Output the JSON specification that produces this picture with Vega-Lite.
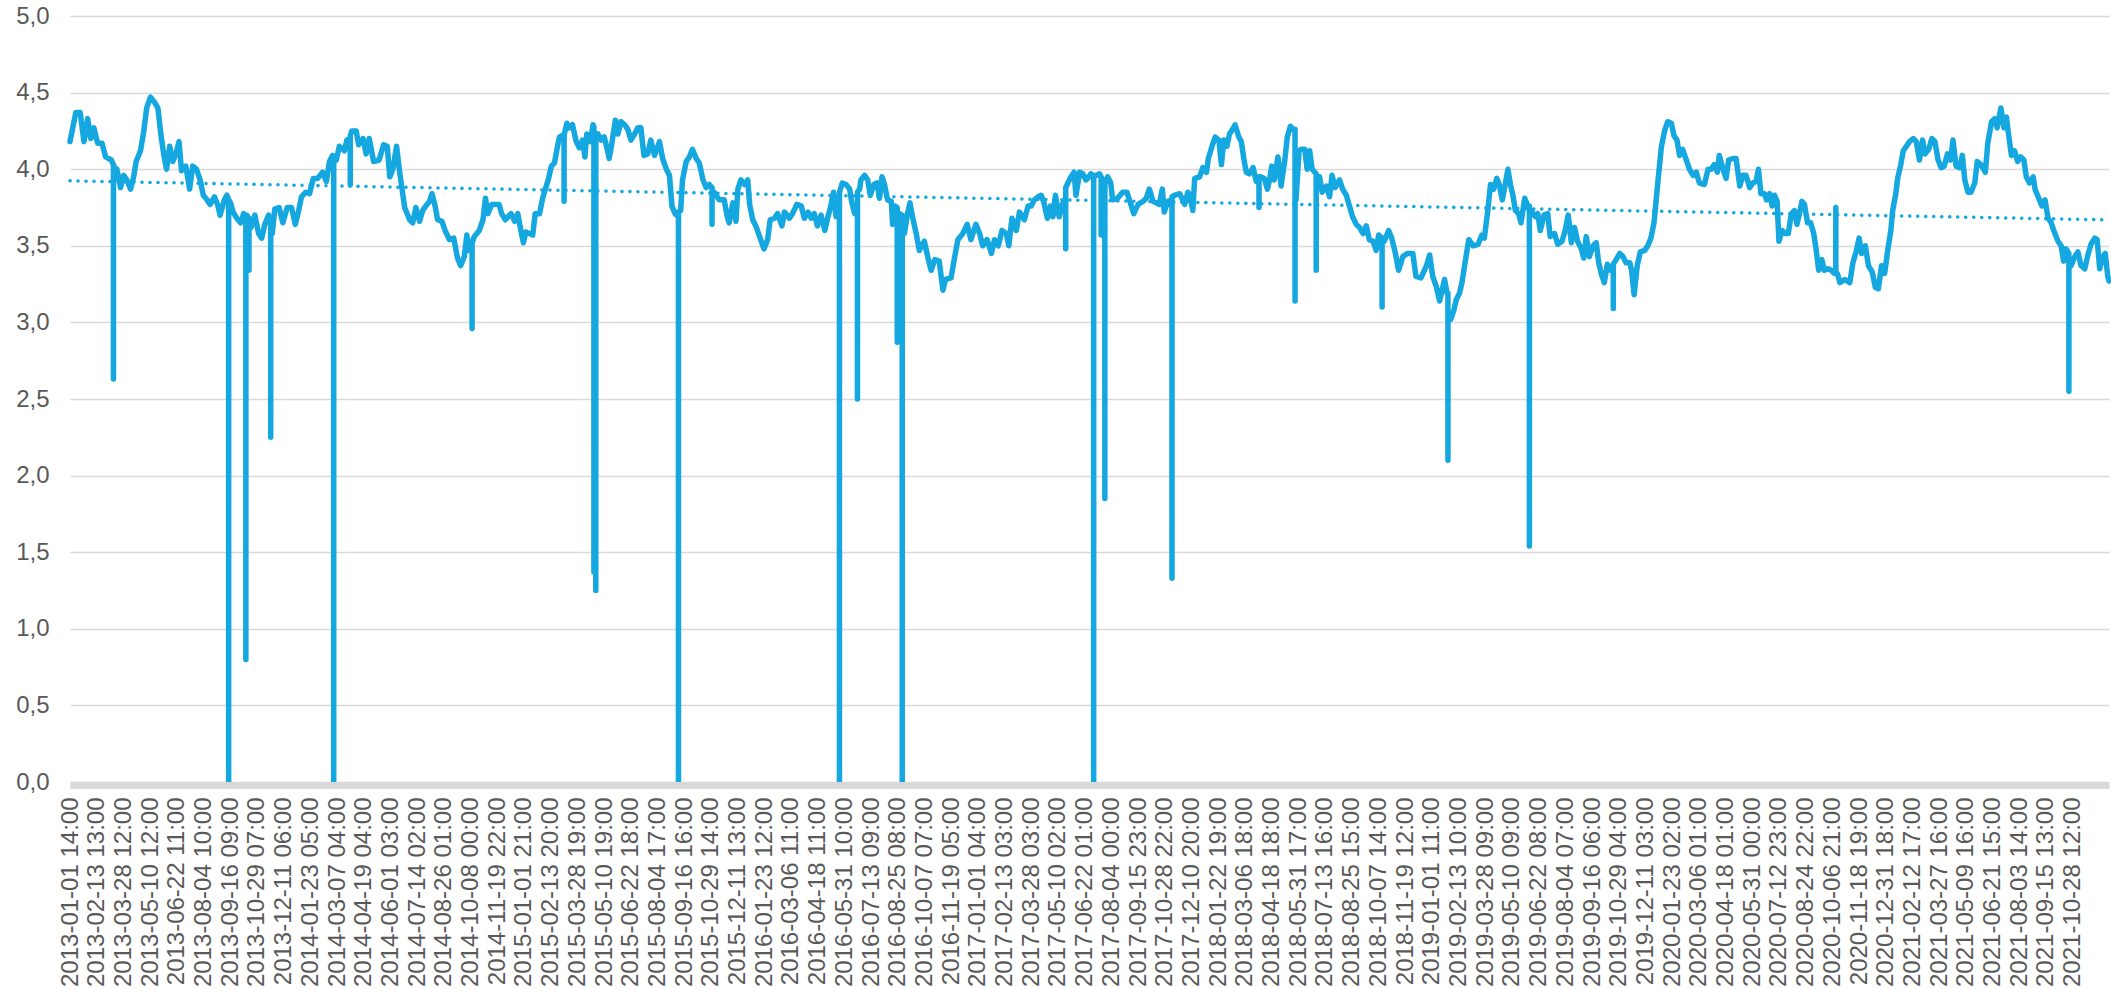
{
"$schema":"https://vega.github.io/schema/vega-lite/v6.json",
"width":2039,"height":766,
"autosize":{"type":"none"},
"padding":{"left":70,"top":16,"right":2,"bottom":207},
"background":"white",
"config":{"view":{"stroke":null},"font":"Liberation Sans"},
"datasets":{
"series":[
{"time":"2013-01-01T14:00Z","value":4.18},{"time":"2013-01-02","value":4.19},{"time":"2013-01-11","value":4.37},{"time":"2013-01-18","value":4.37},{"time":"2013-01-24","value":4.18},{"time":"2013-01-30","value":4.33},{"time":"2013-02-04","value":4.20},{"time":"2013-02-09","value":4.27},{"time":"2013-02-15","value":4.17},{"time":"2013-02-22","value":4.17},{"time":"2013-02-28","value":4.08},{"time":"2013-03-09","value":4.06},
{"time":"2013-03-12T11:00Z","value":4.03},{"time":"2013-03-12T12:00Z","value":2.63},{"time":"2013-03-12T13:00Z","value":4.03},
{"time":"2013-03-14","value":4.01},{"time":"2013-03-18","value":4.00},{"time":"2013-03-24","value":3.88},{"time":"2013-03-29","value":3.96},{"time":"2013-04-03","value":3.93},{"time":"2013-04-09","value":3.87},{"time":"2013-04-14","value":3.95},{"time":"2013-04-18","value":4.05},{"time":"2013-04-25","value":4.12},{"time":"2013-04-30","value":4.24},{"time":"2013-05-05","value":4.40},{"time":"2013-05-11","value":4.47},{"time":"2013-05-17","value":4.44},{"time":"2013-05-23","value":4.40},{"time":"2013-05-28","value":4.22},{"time":"2013-06-02","value":4.08},{"time":"2013-06-06","value":4.00},{"time":"2013-06-11","value":4.15},{"time":"2013-06-16","value":4.05},{"time":"2013-06-21","value":4.10},{"time":"2013-06-26","value":4.18},{"time":"2013-06-30","value":3.99},{"time":"2013-07-07","value":4.02},{"time":"2013-07-13","value":3.87},{"time":"2013-07-18","value":4.02},{"time":"2013-07-24","value":4.00},{"time":"2013-07-30","value":3.93},{"time":"2013-08-04","value":3.83},{"time":"2013-08-10","value":3.80},{"time":"2013-08-15","value":3.77},{"time":"2013-08-22","value":3.82},{"time":"2013-08-27","value":3.77},{"time":"2013-08-31","value":3.70},{"time":"2013-09-07","value":3.80},{"time":"2013-09-11","value":3.83},
{"time":"2013-09-13T19:00Z","value":3.80},{"time":"2013-09-13T20:00Z","value":0},{"time":"2013-09-13T21:00Z","value":3.80},
{"time":"2013-09-17","value":3.78},{"time":"2013-09-21","value":3.72},{"time":"2013-09-27","value":3.68},{"time":"2013-10-03","value":3.65},{"time":"2013-10-08","value":3.71},
{"time":"2013-10-11T11:00Z","value":3.70},{"time":"2013-10-11T12:00Z","value":0.80},{"time":"2013-10-11T13:00Z","value":3.70},
{"time":"2013-10-13","value":3.70},
{"time":"2013-10-16T11:00Z","value":3.68},{"time":"2013-10-16T12:00Z","value":3.34},{"time":"2013-10-16T13:00Z","value":3.66},
{"time":"2013-10-20","value":3.62},{"time":"2013-10-26","value":3.70},{"time":"2013-11-01","value":3.58},{"time":"2013-11-06","value":3.55},{"time":"2013-11-11","value":3.64},{"time":"2013-11-17","value":3.70},
{"time":"2013-11-20T11:00Z","value":3.66},{"time":"2013-11-20T12:00Z","value":2.25},{"time":"2013-11-20T13:00Z","value":3.60},
{"time":"2013-11-23","value":3.58},{"time":"2013-11-27","value":3.74},{"time":"2013-12-04","value":3.75},{"time":"2013-12-10","value":3.65},{"time":"2013-12-17","value":3.75},{"time":"2013-12-24","value":3.75},{"time":"2013-12-30","value":3.64},{"time":"2014-01-04","value":3.72},{"time":"2014-01-09","value":3.82},{"time":"2014-01-16","value":3.85},{"time":"2014-01-22","value":3.84},{"time":"2014-01-28","value":3.94},{"time":"2014-02-04","value":3.94},{"time":"2014-02-12","value":3.98},{"time":"2014-02-18","value":3.92},{"time":"2014-02-23","value":4.05},{"time":"2014-02-28","value":4.09},
{"time":"2014-03-01T19:00Z","value":4.08},{"time":"2014-03-01T20:00Z","value":0},{"time":"2014-03-01T21:00Z","value":4.07},
{"time":"2014-03-06","value":4.06},{"time":"2014-03-11","value":4.15},{"time":"2014-03-19","value":4.12},{"time":"2014-03-23","value":4.19},
{"time":"2014-03-28T11:00Z","value":4.20},{"time":"2014-03-28T12:00Z","value":3.90},{"time":"2014-03-28T13:00Z","value":4.22},
{"time":"2014-03-31","value":4.25},{"time":"2014-04-07","value":4.25},{"time":"2014-04-11","value":4.16},{"time":"2014-04-18","value":4.20},{"time":"2014-04-23","value":4.10},{"time":"2014-04-28","value":4.20},{"time":"2014-05-05","value":4.05},{"time":"2014-05-14","value":4.06},{"time":"2014-05-21","value":4.16},{"time":"2014-05-27","value":4.15},{"time":"2014-05-31","value":3.95},{"time":"2014-06-05","value":4.00},{"time":"2014-06-11","value":4.15},{"time":"2014-06-16","value":3.98},{"time":"2014-06-24","value":3.75},{"time":"2014-07-02","value":3.67},
{"time":"2014-07-07","value":3.65},{"time":"2014-07-12","value":3.75},{"time":"2014-07-18","value":3.66},{"time":"2014-07-23","value":3.73},{"time":"2014-07-28","value":3.76},{"time":"2014-08-03","value":3.79},{"time":"2014-08-07","value":3.84},{"time":"2014-08-12","value":3.76},{"time":"2014-08-16","value":3.67},{"time":"2014-08-23","value":3.66},{"time":"2014-08-28","value":3.60},{"time":"2014-09-04","value":3.54},{"time":"2014-09-11","value":3.55},{"time":"2014-09-17","value":3.42},{"time":"2014-09-22","value":3.37},{"time":"2014-09-28","value":3.43},{"time":"2014-10-02","value":3.57},{"time":"2014-10-06","value":3.47},
{"time":"2014-10-10T11:00Z","value":3.50},{"time":"2014-10-10T12:00Z","value":2.96},{"time":"2014-10-10T13:00Z","value":3.52},
{"time":"2014-10-14","value":3.56},{"time":"2014-10-22","value":3.60},{"time":"2014-10-28","value":3.67},{"time":"2014-11-01","value":3.81},{"time":"2014-11-05","value":3.71},{"time":"2014-11-11","value":3.77},{"time":"2014-11-23","value":3.77},{"time":"2014-11-27","value":3.71},{"time":"2014-12-03","value":3.67},{"time":"2014-12-12","value":3.71},{"time":"2014-12-18","value":3.66},{"time":"2014-12-23","value":3.71},{"time":"2014-12-28","value":3.60},{"time":"2015-01-01","value":3.52},{"time":"2015-01-05","value":3.59},{"time":"2015-01-16","value":3.57},{"time":"2015-01-20","value":3.71},{"time":"2015-01-27","value":3.71},{"time":"2015-02-01","value":3.81},{"time":"2015-02-06","value":3.88},{"time":"2015-02-10","value":3.93},{"time":"2015-02-15","value":4.02},{"time":"2015-02-20","value":4.04},{"time":"2015-02-24","value":4.13},{"time":"2015-02-28","value":4.21},{"time":"2015-03-04","value":4.22},
{"time":"2015-03-07T11:00Z","value":4.22},{"time":"2015-03-07T12:00Z","value":3.79},{"time":"2015-03-07T13:00Z","value":4.23},
{"time":"2015-03-08","value":4.23},{"time":"2015-03-12","value":4.30},{"time":"2015-03-16","value":4.27},{"time":"2015-03-21","value":4.29},{"time":"2015-03-27","value":4.18},{"time":"2015-04-01","value":4.14},{"time":"2015-04-06","value":4.19},{"time":"2015-04-10","value":4.08},{"time":"2015-04-13","value":4.23},{"time":"2015-04-19","value":4.18},{"time":"2015-04-23","value":4.29},
{"time":"2015-04-24T11:00Z","value":4.28},{"time":"2015-04-24T12:00Z","value":1.37},{"time":"2015-04-24T13:00Z","value":4.25},
{"time":"2015-04-27T11:00Z","value":4.22},{"time":"2015-04-27T12:00Z","value":1.25},{"time":"2015-04-27T13:00Z","value":4.22},
{"time":"2015-05-01","value":4.23},{"time":"2015-05-06","value":4.19},{"time":"2015-05-11","value":4.21},{"time":"2015-05-16","value":4.13},{"time":"2015-05-19","value":4.07},{"time":"2015-05-23","value":4.16},{"time":"2015-05-29","value":4.32},{"time":"2015-06-02","value":4.23},{"time":"2015-06-07","value":4.31},{"time":"2015-06-13","value":4.29},{"time":"2015-06-18","value":4.26},{"time":"2015-06-23","value":4.19},{"time":"2015-06-29","value":4.23},{"time":"2015-07-04","value":4.27},{"time":"2015-07-09","value":4.27},{"time":"2015-07-14","value":4.09},{"time":"2015-07-20","value":4.10},{"time":"2015-07-25","value":4.19},{"time":"2015-07-31","value":4.09},{"time":"2015-08-08","value":4.18},{"time":"2015-08-13","value":4.07},{"time":"2015-08-19","value":4.00},{"time":"2015-08-24","value":3.96},{"time":"2015-08-28","value":3.76},{"time":"2015-09-02","value":3.71},
{"time":"2015-09-07T11:00Z","value":3.69},{"time":"2015-09-07T12:00Z","value":0},{"time":"2015-09-07T13:00Z","value":3.72},
{"time":"2015-09-11","value":3.73},{"time":"2015-09-14","value":3.93},{"time":"2015-09-20","value":4.05},{"time":"2015-09-25","value":4.08},{"time":"2015-09-30","value":4.13},{"time":"2015-10-06","value":4.07},{"time":"2015-10-11","value":4.04},{"time":"2015-10-17","value":3.93},{"time":"2015-10-22","value":3.88},{"time":"2015-10-27","value":3.90},
{"time":"2015-10-31T11:00Z","value":3.88},{"time":"2015-10-31T12:00Z","value":3.64},{"time":"2015-10-31T13:00Z","value":3.86},
{"time":"2015-11-04","value":3.85},{"time":"2015-11-12","value":3.80},{"time":"2015-11-20","value":3.80},{"time":"2015-11-25","value":3.69},{"time":"2015-11-28","value":3.65},{"time":"2015-12-04","value":3.78},{"time":"2015-12-09","value":3.66},{"time":"2015-12-12","value":3.87},{"time":"2015-12-17","value":3.93},{"time":"2015-12-23","value":3.90},{"time":"2015-12-28","value":3.93},{"time":"2015-12-31","value":3.77},
{"time":"2016-01-05","value":3.67},{"time":"2016-01-10","value":3.63},{"time":"2016-01-16","value":3.56},{"time":"2016-01-23","value":3.48},{"time":"2016-01-29","value":3.54},{"time":"2016-02-02","value":3.67},{"time":"2016-02-09","value":3.68},{"time":"2016-02-14","value":3.71},{"time":"2016-02-21","value":3.63},{"time":"2016-02-25","value":3.72},{"time":"2016-03-04","value":3.68},{"time":"2016-03-09","value":3.71},{"time":"2016-03-16","value":3.77},{"time":"2016-03-23","value":3.76},{"time":"2016-03-28","value":3.68},{"time":"2016-04-03","value":3.72},{"time":"2016-04-08","value":3.68},{"time":"2016-04-13","value":3.71},{"time":"2016-04-18","value":3.63},{"time":"2016-04-24","value":3.70},{"time":"2016-04-30","value":3.60},{"time":"2016-05-05","value":3.69},{"time":"2016-05-09","value":3.75},{"time":"2016-05-14","value":3.85},{"time":"2016-05-18","value":3.69},
{"time":"2016-05-23T11:00Z","value":3.75},{"time":"2016-05-23T12:00Z","value":0},{"time":"2016-05-23T13:00Z","value":3.85},
{"time":"2016-05-28","value":3.91},{"time":"2016-06-03","value":3.90},{"time":"2016-06-09","value":3.87},{"time":"2016-06-12","value":3.79},{"time":"2016-06-17","value":3.71},
{"time":"2016-06-21T11:00Z","value":3.75},{"time":"2016-06-21T12:00Z","value":2.50},{"time":"2016-06-21T13:00Z","value":3.85},
{"time":"2016-06-25","value":3.87},{"time":"2016-06-27","value":3.93},{"time":"2016-07-03","value":3.96},{"time":"2016-07-08","value":3.93},{"time":"2016-07-12","value":3.83},{"time":"2016-07-18","value":3.90},{"time":"2016-07-23","value":3.91},{"time":"2016-07-27","value":3.81},{"time":"2016-07-31","value":3.95},{"time":"2016-08-04","value":3.90},{"time":"2016-08-09","value":3.80},{"time":"2016-08-15","value":3.79},{"time":"2016-08-17","value":3.64},{"time":"2016-08-21","value":3.76},
{"time":"2016-08-24T11:00Z","value":3.75},{"time":"2016-08-24T12:00Z","value":2.87},{"time":"2016-08-24T13:00Z","value":3.72},
{"time":"2016-08-28","value":3.71},
{"time":"2016-09-01T11:00Z","value":3.70},{"time":"2016-09-01T12:00Z","value":0},{"time":"2016-09-01T13:00Z","value":3.65},
{"time":"2016-09-05","value":3.58},{"time":"2016-09-10","value":3.71},{"time":"2016-09-14","value":3.78},{"time":"2016-09-18","value":3.69},{"time":"2016-09-24","value":3.58},{"time":"2016-09-29","value":3.47},{"time":"2016-10-07","value":3.53},{"time":"2016-10-13","value":3.42},{"time":"2016-10-18","value":3.34},{"time":"2016-10-24","value":3.41},{"time":"2016-10-31","value":3.40},{"time":"2016-11-06","value":3.21},{"time":"2016-11-10","value":3.28},{"time":"2016-11-19","value":3.29},{"time":"2016-11-25","value":3.43},{"time":"2016-11-30","value":3.54},{"time":"2016-12-08","value":3.58},{"time":"2016-12-15","value":3.64},{"time":"2016-12-21","value":3.54},{"time":"2016-12-29","value":3.64},{"time":"2017-01-04","value":3.58},{"time":"2017-01-09","value":3.50},{"time":"2017-01-16","value":3.54},{"time":"2017-01-23","value":3.45},{"time":"2017-01-28","value":3.54},{"time":"2017-02-03","value":3.50},{"time":"2017-02-09","value":3.60},{"time":"2017-02-16","value":3.58},{"time":"2017-02-20","value":3.50},{"time":"2017-02-25","value":3.68},{"time":"2017-03-04","value":3.60},{"time":"2017-03-09","value":3.72},{"time":"2017-03-17","value":3.67},{"time":"2017-03-23","value":3.76},{"time":"2017-03-28","value":3.76},{"time":"2017-04-02","value":3.80},{"time":"2017-04-08","value":3.82},{"time":"2017-04-13","value":3.83},{"time":"2017-04-17","value":3.79},{"time":"2017-04-23","value":3.68},{"time":"2017-04-28","value":3.76},{"time":"2017-05-02","value":3.69},{"time":"2017-05-06","value":3.83},{"time":"2017-05-12","value":3.69},{"time":"2017-05-18","value":3.78},
{"time":"2017-05-22T11:00Z","value":3.78},{"time":"2017-05-22T12:00Z","value":3.48},{"time":"2017-05-22T13:00Z","value":3.88},
{"time":"2017-05-26","value":3.91},{"time":"2017-05-31","value":3.95},{"time":"2017-06-05","value":3.98},{"time":"2017-06-08","value":3.83},{"time":"2017-06-14","value":3.98},{"time":"2017-06-19","value":3.97},{"time":"2017-06-24","value":3.93},{"time":"2017-06-27","value":3.94},{"time":"2017-07-02","value":3.97},
{"time":"2017-07-06T11:00Z","value":3.96},{"time":"2017-07-06T12:00Z","value":0},{"time":"2017-07-06T13:00Z","value":3.95},
{"time":"2017-07-11","value":3.96},{"time":"2017-07-16","value":3.97},
{"time":"2017-07-18T11:00Z","value":3.95},{"time":"2017-07-18T12:00Z","value":3.57},{"time":"2017-07-18T13:00Z","value":3.95},
{"time":"2017-07-21","value":3.93},
{"time":"2017-07-24T11:00Z","value":3.92},{"time":"2017-07-24T12:00Z","value":1.85},{"time":"2017-07-24T13:00Z","value":3.90},
{"time":"2017-07-29","value":3.95},{"time":"2017-08-03","value":3.91},{"time":"2017-08-06","value":3.80},{"time":"2017-08-14","value":3.81},{"time":"2017-08-22","value":3.85},{"time":"2017-08-29","value":3.85},{"time":"2017-09-02","value":3.80},{"time":"2017-09-09","value":3.71},{"time":"2017-09-16","value":3.77},{"time":"2017-09-24","value":3.79},{"time":"2017-09-29","value":3.81},{"time":"2017-10-04","value":3.87},{"time":"2017-10-10","value":3.79},{"time":"2017-10-15","value":3.78},{"time":"2017-10-20","value":3.77},{"time":"2017-10-25","value":3.87},{"time":"2017-10-28","value":3.72},{"time":"2017-11-03","value":3.79},
{"time":"2017-11-09T11:00Z","value":3.80},{"time":"2017-11-09T12:00Z","value":1.33},{"time":"2017-11-09T13:00Z","value":3.82},
{"time":"2017-11-14","value":3.83},{"time":"2017-11-22","value":3.84},{"time":"2017-11-30","value":3.77},{"time":"2017-12-05","value":3.85},{"time":"2017-12-09","value":3.82},{"time":"2017-12-13","value":3.73},{"time":"2017-12-16","value":3.94},{"time":"2017-12-24","value":3.95},{"time":"2017-12-29","value":4.01},{"time":"2018-01-04","value":3.98},{"time":"2018-01-07","value":4.07},{"time":"2018-01-13","value":4.15},{"time":"2018-01-18","value":4.21},{"time":"2018-01-24","value":4.19},{"time":"2018-01-28","value":4.03},{"time":"2018-02-01","value":4.19},{"time":"2018-02-06","value":4.15},{"time":"2018-02-10","value":4.23},{"time":"2018-02-15","value":4.26},{"time":"2018-02-19","value":4.29},{"time":"2018-02-25","value":4.21},{"time":"2018-03-01","value":4.18},{"time":"2018-03-05","value":4.07},{"time":"2018-03-09","value":3.98},{"time":"2018-03-14","value":3.97},{"time":"2018-03-20","value":4.01},{"time":"2018-03-25","value":3.92},
{"time":"2018-03-29T11:00Z","value":3.92},{"time":"2018-03-29T12:00Z","value":3.75},{"time":"2018-03-29T13:00Z","value":3.95},
{"time":"2018-04-02","value":3.95},{"time":"2018-04-07","value":3.94},{"time":"2018-04-12","value":3.87},{"time":"2018-04-15","value":3.92},{"time":"2018-04-19","value":4.02},{"time":"2018-04-23","value":3.93},{"time":"2018-04-29","value":4.08},{"time":"2018-05-04","value":3.89},{"time":"2018-05-10","value":4.06},{"time":"2018-05-14","value":4.21},{"time":"2018-05-19","value":4.28},{"time":"2018-05-23","value":4.26},
{"time":"2018-05-26T11:00Z","value":4.26},{"time":"2018-05-26T12:00Z","value":3.14},{"time":"2018-05-26T13:00Z","value":3.80},
{"time":"2018-05-28","value":3.80},{"time":"2018-06-02","value":4.12},{"time":"2018-06-05","value":4.13},{"time":"2018-06-11","value":4.13},{"time":"2018-06-15","value":4.00},{"time":"2018-06-19","value":4.12},{"time":"2018-06-23","value":4.00},
{"time":"2018-06-29T11:00Z","value":3.97},{"time":"2018-06-29T12:00Z","value":3.34},{"time":"2018-06-29T13:00Z","value":3.95},
{"time":"2018-07-05","value":3.95},{"time":"2018-07-09","value":3.85},{"time":"2018-07-16","value":3.89},{"time":"2018-07-21","value":3.82},{"time":"2018-07-25","value":3.96},{"time":"2018-07-30","value":3.88},{"time":"2018-08-06","value":3.93},{"time":"2018-08-11","value":3.87},{"time":"2018-08-17","value":3.83},{"time":"2018-08-22","value":3.76},{"time":"2018-08-27","value":3.69},{"time":"2018-09-02","value":3.64},{"time":"2018-09-07","value":3.62},{"time":"2018-09-13","value":3.58},{"time":"2018-09-18","value":3.63},{"time":"2018-09-23","value":3.54},{"time":"2018-09-29","value":3.53},{"time":"2018-10-04","value":3.47},{"time":"2018-10-08","value":3.57},
{"time":"2018-10-13T11:00Z","value":3.55},{"time":"2018-10-13T12:00Z","value":3.10},{"time":"2018-10-13T13:00Z","value":3.55},
{"time":"2018-10-17","value":3.53},{"time":"2018-10-24","value":3.60},{"time":"2018-10-29","value":3.55},{"time":"2018-11-04","value":3.45},{"time":"2018-11-09","value":3.34},{"time":"2018-11-16","value":3.43},{"time":"2018-11-23","value":3.45},{"time":"2018-12-02","value":3.45},{"time":"2018-12-07","value":3.30},{"time":"2018-12-15","value":3.29},{"time":"2018-12-24","value":3.37},{"time":"2018-12-29","value":3.44},
{"time":"2019-01-03","value":3.30},{"time":"2019-01-09","value":3.23},{"time":"2019-01-14","value":3.14},{"time":"2019-01-18","value":3.21},{"time":"2019-01-22","value":3.28},{"time":"2019-01-26","value":3.19},
{"time":"2019-01-27T11:00Z","value":3.19},{"time":"2019-01-27T12:00Z","value":2.10},{"time":"2019-01-27T13:00Z","value":3.05},
{"time":"2019-02-01","value":3.02},{"time":"2019-02-06","value":3.08},{"time":"2019-02-10","value":3.15},{"time":"2019-02-15","value":3.19},{"time":"2019-02-19","value":3.26},{"time":"2019-02-24","value":3.39},{"time":"2019-03-02","value":3.54},{"time":"2019-03-09","value":3.50},{"time":"2019-03-17","value":3.51},{"time":"2019-03-23","value":3.57},{"time":"2019-03-27","value":3.55},{"time":"2019-04-01","value":3.71},{"time":"2019-04-06","value":3.90},{"time":"2019-04-11","value":3.87},{"time":"2019-04-16","value":3.94},{"time":"2019-04-20","value":3.90},{"time":"2019-04-25","value":3.80},{"time":"2019-04-30","value":3.91},{"time":"2019-05-04","value":4.00},{"time":"2019-05-08","value":3.90},{"time":"2019-05-12","value":3.83},{"time":"2019-05-16","value":3.73},{"time":"2019-05-21","value":3.71},{"time":"2019-05-25","value":3.65},{"time":"2019-05-31","value":3.81},{"time":"2019-06-05","value":3.76},
{"time":"2019-06-07T11:00Z","value":3.76},{"time":"2019-06-07T12:00Z","value":1.54},{"time":"2019-06-07T13:00Z","value":3.74},
{"time":"2019-06-11","value":3.73},{"time":"2019-06-17","value":3.69},{"time":"2019-06-21","value":3.71},{"time":"2019-06-25","value":3.60},{"time":"2019-07-01","value":3.70},{"time":"2019-07-07","value":3.71},{"time":"2019-07-11","value":3.56},{"time":"2019-07-18","value":3.58},{"time":"2019-07-23","value":3.51},{"time":"2019-07-30","value":3.53},{"time":"2019-08-04","value":3.60},{"time":"2019-08-09","value":3.70},{"time":"2019-08-14","value":3.52},{"time":"2019-08-19","value":3.62},{"time":"2019-08-24","value":3.53},{"time":"2019-08-30","value":3.48},{"time":"2019-09-03","value":3.42},{"time":"2019-09-07","value":3.56},{"time":"2019-09-12","value":3.43},{"time":"2019-09-18","value":3.50},{"time":"2019-09-23","value":3.52},{"time":"2019-09-27","value":3.39},{"time":"2019-10-01","value":3.32},{"time":"2019-10-06","value":3.26},{"time":"2019-10-11","value":3.38},{"time":"2019-10-16","value":3.34},
{"time":"2019-10-20T11:00Z","value":3.34},{"time":"2019-10-20T12:00Z","value":3.09},{"time":"2019-10-20T13:00Z","value":3.38},
{"time":"2019-10-25","value":3.41},{"time":"2019-10-31","value":3.45},{"time":"2019-11-05","value":3.43},{"time":"2019-11-10","value":3.39},{"time":"2019-11-16","value":3.39},{"time":"2019-11-19","value":3.34},{"time":"2019-11-23","value":3.18},{"time":"2019-11-28","value":3.37},{"time":"2019-12-03","value":3.46},{"time":"2019-12-10","value":3.47},{"time":"2019-12-15","value":3.50},{"time":"2019-12-20","value":3.55},{"time":"2019-12-25","value":3.65},{"time":"2019-12-29","value":3.82},{"time":"2020-01-01","value":3.95},{"time":"2020-01-06","value":4.15},{"time":"2020-01-11","value":4.25},{"time":"2020-01-16","value":4.31},{"time":"2020-01-22","value":4.30},{"time":"2020-01-26","value":4.22},{"time":"2020-01-31","value":4.19},{"time":"2020-02-04","value":4.09},{"time":"2020-02-09","value":4.13},{"time":"2020-02-15","value":4.06},{"time":"2020-02-20","value":4.00},{"time":"2020-02-26","value":3.96},{"time":"2020-03-02","value":3.98},{"time":"2020-03-07","value":3.91},{"time":"2020-03-15","value":3.90},{"time":"2020-03-21","value":4.00},{"time":"2020-03-26","value":4.00},{"time":"2020-03-31","value":4.03},{"time":"2020-04-05","value":3.98},{"time":"2020-04-08","value":4.09},{"time":"2020-04-14","value":4.00},{"time":"2020-04-19","value":3.94},{"time":"2020-04-23","value":4.06},{"time":"2020-04-30","value":4.07},{"time":"2020-05-05","value":4.07},{"time":"2020-05-11","value":3.89},{"time":"2020-05-16","value":3.96},{"time":"2020-05-21","value":3.96},{"time":"2020-05-27","value":3.88},{"time":"2020-06-01","value":3.91},{"time":"2020-06-06","value":3.92},{"time":"2020-06-10","value":4.00},{"time":"2020-06-14","value":3.84},{"time":"2020-06-20","value":3.84},
{"time":"2020-06-23","value":3.80},{"time":"2020-06-28","value":3.84},{"time":"2020-07-02","value":3.76},{"time":"2020-07-06","value":3.83},{"time":"2020-07-10","value":3.79},{"time":"2020-07-13","value":3.53},{"time":"2020-07-18","value":3.60},{"time":"2020-07-23","value":3.58},{"time":"2020-07-28","value":3.58},{"time":"2020-08-02","value":3.71},{"time":"2020-08-07","value":3.73},{"time":"2020-08-11","value":3.64},{"time":"2020-08-15","value":3.71},{"time":"2020-08-19","value":3.79},{"time":"2020-08-23","value":3.77},{"time":"2020-08-28","value":3.65},{"time":"2020-09-02","value":3.65},{"time":"2020-09-07","value":3.58},{"time":"2020-09-11","value":3.47},{"time":"2020-09-15","value":3.34},{"time":"2020-09-20","value":3.41},{"time":"2020-09-24","value":3.34},{"time":"2020-09-30","value":3.35},{"time":"2020-10-05","value":3.34},{"time":"2020-10-10","value":3.32},
{"time":"2020-10-12T11:00Z","value":3.32},{"time":"2020-10-12T12:00Z","value":3.75},{"time":"2020-10-12T13:00Z","value":3.32},
{"time":"2020-10-15","value":3.32},{"time":"2020-10-19","value":3.26},{"time":"2020-10-27","value":3.28},{"time":"2020-11-04","value":3.26},{"time":"2020-11-09","value":3.39},{"time":"2020-11-14","value":3.46},{"time":"2020-11-19","value":3.55},{"time":"2020-11-23","value":3.45},{"time":"2020-11-29","value":3.50},{"time":"2020-12-04","value":3.37},{"time":"2020-12-10","value":3.33},{"time":"2020-12-15","value":3.23},{"time":"2020-12-20","value":3.22},{"time":"2020-12-25","value":3.37},{"time":"2020-12-30","value":3.32},{"time":"2021-01-04","value":3.47},{"time":"2021-01-09","value":3.60},{"time":"2021-01-12","value":3.73},{"time":"2021-01-17","value":3.84},{"time":"2021-01-20","value":3.94},{"time":"2021-01-25","value":4.03},{"time":"2021-01-29","value":4.12},{"time":"2021-02-03","value":4.15},{"time":"2021-02-08","value":4.18},{"time":"2021-02-14","value":4.20},{"time":"2021-02-19","value":4.18},{"time":"2021-02-24","value":4.06},{"time":"2021-03-01","value":4.19},{"time":"2021-03-05","value":4.10},{"time":"2021-03-11","value":4.13},{"time":"2021-03-16","value":4.20},{"time":"2021-03-21","value":4.18},{"time":"2021-03-26","value":4.06},{"time":"2021-03-31","value":4.01},{"time":"2021-04-05","value":4.02},{"time":"2021-04-10","value":4.10},{"time":"2021-04-15","value":4.06},{"time":"2021-04-19","value":4.19},{"time":"2021-04-24","value":4.02},{"time":"2021-04-30","value":4.01},{"time":"2021-05-04","value":4.09},{"time":"2021-05-08","value":3.93},{"time":"2021-05-13","value":3.85},{"time":"2021-05-18","value":3.85},{"time":"2021-05-24","value":3.91},{"time":"2021-05-28","value":4.05},{"time":"2021-06-03","value":4.03},{"time":"2021-06-10","value":3.98},{"time":"2021-06-14","value":4.17},{"time":"2021-06-20","value":4.31},{"time":"2021-06-25","value":4.33},{"time":"2021-06-29","value":4.27},{"time":"2021-07-05","value":4.40},{"time":"2021-07-10","value":4.27},{"time":"2021-07-14","value":4.34},{"time":"2021-07-18","value":4.21},{"time":"2021-07-22","value":4.09},{"time":"2021-07-27","value":4.12},{"time":"2021-08-01","value":4.05},{"time":"2021-08-06","value":4.08},{"time":"2021-08-11","value":4.06},{"time":"2021-08-15","value":3.95},{"time":"2021-08-20","value":3.91},{"time":"2021-08-26","value":3.95},{"time":"2021-08-29","value":3.87},{"time":"2021-09-04","value":3.81},{"time":"2021-09-09","value":3.76},{"time":"2021-09-14","value":3.80},{"time":"2021-09-19","value":3.68},{"time":"2021-09-24","value":3.65},{"time":"2021-09-29","value":3.59},{"time":"2021-10-05","value":3.53},{"time":"2021-10-10","value":3.50},{"time":"2021-10-14","value":3.40},{"time":"2021-10-18","value":3.48},
{"time":"2021-10-22T11:00Z","value":3.45},{"time":"2021-10-22T12:00Z","value":2.55},{"time":"2021-10-22T13:00Z","value":3.40},
{"time":"2021-10-26","value":3.37},{"time":"2021-11-01","value":3.43},{"time":"2021-11-06","value":3.46},{"time":"2021-11-11","value":3.37},{"time":"2021-11-17","value":3.35},{"time":"2021-11-22","value":3.44},{"time":"2021-11-27","value":3.51},{"time":"2021-12-03","value":3.55},{"time":"2021-12-07","value":3.54},{"time":"2021-12-11","value":3.35},{"time":"2021-12-16","value":3.43},{"time":"2021-12-20","value":3.45},{"time":"2021-12-24","value":3.30},{"time":"2021-12-26","value":3.27}
],
"trend":[{"time":"2013-01-01T14:00Z","value":3.924},{"time":"2021-12-26","value":3.669}]
},
"layer":[
{"data":{"name":"series"},
 "mark":{"type":"line","color":"#15A7DF","strokeWidth":5.5,"strokeCap":"round","strokeJoin":"round"},
 "encoding":{
  "x":{"field":"time","type":"temporal",
   "scale":{"type":"utc","domain":[{"year":2013,"month":1,"date":1,"hours":14,"utc":true},{"year":2021,"month":12,"date":26,"utc":true}]},
   "axis":{"title":null,"zindex":1,"offset":3,"grid":false,"ticks":false,"domain":true,"domainColor":"#D9D9D9","domainWidth":7,"tickCount":500,
    "labelAngle":-90,"labelAlign":"right","labelBaseline":"middle","labelPadding":12,"labelFontSize":24,"labelColor":"#595959","labelFont":"Liberation Sans","labelOverlap":false,"labelFlush":false,"labelBound":false,"labelLimit":0,
    "labelExpr":"utcFormat(datum.value, '%Y-%m-%d %H:%M')",
    "values":[
{"year":2013,"month":1,"date":1,"hours":14,"utc":true},{"year":2013,"month":2,"date":13,"hours":13,"utc":true},{"year":2013,"month":3,"date":28,"hours":12,"utc":true},{"year":2013,"month":5,"date":10,"hours":12,"utc":true},{"year":2013,"month":6,"date":22,"hours":11,"utc":true},{"year":2013,"month":8,"date":4,"hours":10,"utc":true},{"year":2013,"month":9,"date":16,"hours":9,"utc":true},{"year":2013,"month":10,"date":29,"hours":7,"utc":true},{"year":2013,"month":12,"date":11,"hours":6,"utc":true},
{"year":2014,"month":1,"date":23,"hours":5,"utc":true},{"year":2014,"month":3,"date":7,"hours":4,"utc":true},{"year":2014,"month":4,"date":19,"hours":4,"utc":true},{"year":2014,"month":6,"date":1,"hours":3,"utc":true},{"year":2014,"month":7,"date":14,"hours":2,"utc":true},{"year":2014,"month":8,"date":26,"hours":1,"utc":true},{"year":2014,"month":10,"date":8,"hours":0,"utc":true},{"year":2014,"month":11,"date":19,"hours":22,"utc":true},
{"year":2015,"month":1,"date":1,"hours":21,"utc":true},{"year":2015,"month":2,"date":13,"hours":20,"utc":true},{"year":2015,"month":3,"date":28,"hours":19,"utc":true},{"year":2015,"month":5,"date":10,"hours":19,"utc":true},{"year":2015,"month":6,"date":22,"hours":18,"utc":true},{"year":2015,"month":8,"date":4,"hours":17,"utc":true},{"year":2015,"month":9,"date":16,"hours":16,"utc":true},{"year":2015,"month":10,"date":29,"hours":14,"utc":true},{"year":2015,"month":12,"date":11,"hours":13,"utc":true},
{"year":2016,"month":1,"date":23,"hours":12,"utc":true},{"year":2016,"month":3,"date":6,"hours":11,"utc":true},{"year":2016,"month":4,"date":18,"hours":11,"utc":true},{"year":2016,"month":5,"date":31,"hours":10,"utc":true},{"year":2016,"month":7,"date":13,"hours":9,"utc":true},{"year":2016,"month":8,"date":25,"hours":8,"utc":true},{"year":2016,"month":10,"date":7,"hours":7,"utc":true},{"year":2016,"month":11,"date":19,"hours":5,"utc":true},
{"year":2017,"month":1,"date":1,"hours":4,"utc":true},{"year":2017,"month":2,"date":13,"hours":3,"utc":true},{"year":2017,"month":3,"date":28,"hours":3,"utc":true},{"year":2017,"month":5,"date":10,"hours":2,"utc":true},{"year":2017,"month":6,"date":22,"hours":1,"utc":true},{"year":2017,"month":8,"date":4,"hours":0,"utc":true},{"year":2017,"month":9,"date":15,"hours":23,"utc":true},{"year":2017,"month":10,"date":28,"hours":22,"utc":true},{"year":2017,"month":12,"date":10,"hours":20,"utc":true},
{"year":2018,"month":1,"date":22,"hours":19,"utc":true},{"year":2018,"month":3,"date":6,"hours":18,"utc":true},{"year":2018,"month":4,"date":18,"hours":18,"utc":true},{"year":2018,"month":5,"date":31,"hours":17,"utc":true},{"year":2018,"month":7,"date":13,"hours":16,"utc":true},{"year":2018,"month":8,"date":25,"hours":15,"utc":true},{"year":2018,"month":10,"date":7,"hours":14,"utc":true},{"year":2018,"month":11,"date":19,"hours":12,"utc":true},
{"year":2019,"month":1,"date":1,"hours":11,"utc":true},{"year":2019,"month":2,"date":13,"hours":10,"utc":true},{"year":2019,"month":3,"date":28,"hours":9,"utc":true},{"year":2019,"month":5,"date":10,"hours":9,"utc":true},{"year":2019,"month":6,"date":22,"hours":8,"utc":true},{"year":2019,"month":8,"date":4,"hours":7,"utc":true},{"year":2019,"month":9,"date":16,"hours":6,"utc":true},{"year":2019,"month":10,"date":29,"hours":4,"utc":true},{"year":2019,"month":12,"date":11,"hours":3,"utc":true},
{"year":2020,"month":1,"date":23,"hours":2,"utc":true},{"year":2020,"month":3,"date":6,"hours":1,"utc":true},{"year":2020,"month":4,"date":18,"hours":1,"utc":true},{"year":2020,"month":5,"date":31,"hours":0,"utc":true},{"year":2020,"month":7,"date":12,"hours":23,"utc":true},{"year":2020,"month":8,"date":24,"hours":22,"utc":true},{"year":2020,"month":10,"date":6,"hours":21,"utc":true},{"year":2020,"month":11,"date":18,"hours":19,"utc":true},{"year":2020,"month":12,"date":31,"hours":18,"utc":true},
{"year":2021,"month":2,"date":12,"hours":17,"utc":true},{"year":2021,"month":3,"date":27,"hours":16,"utc":true},{"year":2021,"month":5,"date":9,"hours":16,"utc":true},{"year":2021,"month":6,"date":21,"hours":15,"utc":true},{"year":2021,"month":8,"date":3,"hours":14,"utc":true},{"year":2021,"month":9,"date":15,"hours":13,"utc":true},{"year":2021,"month":10,"date":28,"hours":12,"utc":true}
    ]}},
  "y":{"field":"value","type":"quantitative",
   "scale":{"domain":[0,5],"nice":false,"zero":true},
   "axis":{"title":null,"grid":true,"gridColor":"#D9D9D9","gridWidth":1.5,"domain":false,"ticks":false,"labelPadding":21,"labelFontSize":24,"labelColor":"#595959","labelFont":"Liberation Sans","tickCount":50,
    "values":[0,0.5,1,1.5,2,2.5,3,3.5,4,4.5,5],
    "labelExpr":"replace(format(datum.value, '.1f'), '.', ',')"}}
 }},
{"data":{"name":"trend"},
 "mark":{"type":"line","color":"#15A7DF","strokeWidth":3.5,"strokeDash":[0.1,7.9],"strokeCap":"round"},
 "encoding":{"x":{"field":"time","type":"temporal"},"y":{"field":"value","type":"quantitative"}}}
]
}
